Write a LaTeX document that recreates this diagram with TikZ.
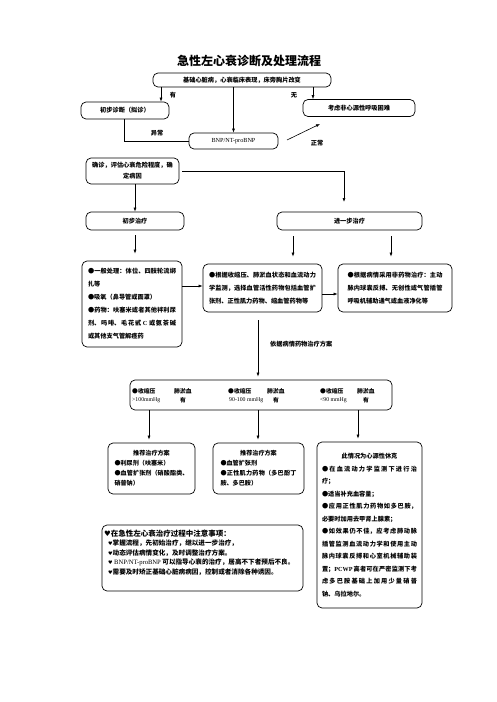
\documentclass[tikz,border=0pt]{standalone}
\usepackage{fontspec}
\setmainfont{Noto Sans CJK SC}
\newfontfamily\lat{Liberation Serif}
\newfontfamily\sym{DejaVu Sans}
\usetikzlibrary{arrows.meta}
\XeTeXlinebreaklocale "zh"
\XeTeXlinebreakskip=0pt plus 2pt
\begin{document}
\begin{tikzpicture}[x=1pt,y=-1pt,
  box/.style={draw, rounded corners=5pt, line width=0.7pt, inner sep=0pt, align=flush center,
    font=\bfseries\fontsize{6.2}{8}\selectfont},
  txt/.style={inner sep=0pt, font=\bfseries\fontsize{6.2}{8}\selectfont},
  arr/.style={-{Latex[length=4pt,width=3pt]}, line width=0.6pt},
  ln/.style={line width=0.6pt}]
\useasboundingbox (0,0) rectangle (496,702);
\fill[white] (0,0) rectangle (496,702);

\node[txt, font=\bfseries\fontsize{12}{14}\selectfont] (title) at (249,61) {急性左心衰诊断及处理流程};

\node[box, minimum width=178, minimum height=14] (b1) at (242,80) {基础心脏病，心衰临床表现，床旁胸片改变};
\node[box, minimum width=88, minimum height=17] (diag) at (125,110.5) {初步诊断（拟诊）};
\node[box, minimum width=112, minimum height=17] (nonc) at (359,108) {考虑非心源性呼吸困难};
\node[box, minimum width=89, minimum height=16, font=\lat\fontsize{6.2}{8}\selectfont] (bnp) at (233.5,141) {BNP/NT-proBNP};
\node[box, minimum width=93, minimum height=26, text width=84, font=\bfseries\fontsize{6.2}{11}\selectfont] (conf) at (132.5,171) {确诊，评估心衰危险程度，确\\定病因};
\node[box, minimum width=98, minimum height=18] (init) at (135,221) {初步治疗};
\node[box, minimum width=145, minimum height=18] (furt) at (349.5,221) {进一步治疗};

\node[box, minimum width=100, minimum height=86, text width=88, align=justify,
  font=\bfseries\fontsize{6.2}{13}\selectfont] (A) at (132,304)
  {●一般处理：体位、四肢轮流绑\linebreak 扎等\par
   ●吸氧（鼻导管或面罩）\par
   ●药物：呋塞米或者其他袢利尿\linebreak 剂、吗啡、毛花甙 {\lat C} 或氨茶碱\linebreak 或其他支气管解痉药};
\node[box, minimum width=119, minimum height=48, text width=107, align=justify,
  font=\bfseries\fontsize{6.2}{13}\selectfont] (B) at (262.5,288)
  {●根据收缩压、肺淤血状态和血流动力\linebreak 学监测，选择血管活性药物包括血管扩\linebreak 张剂、正性肌力药物、缩血管药物等};
\node[box, minimum width=114, minimum height=48, text width=95, align=justify,
  font=\bfseries\fontsize{6.2}{13}\selectfont] (C) at (395,288)
  {●根据病情采用非药物治疗：主动\linebreak 脉内球囊反搏、无创性或气管插管\linebreak 呼吸机辅助通气或血液净化等};

\node[box, minimum width=262, minimum height=30] (big) at (261,395) {};
\begin{scope}[every node/.style={txt, anchor=west, font=\bfseries\fontsize{5.8}{7}\selectfont}]
\node (r11) at (132,391) {●收缩压};
\node (r12) at (174,391) {肺淤血};
\node (r21) at (132,400) {\lat\mdseries >100mmHg};
\node (r22) at (180,400) {有};
\node (s11) at (228,391) {●收缩压};
\node (s12) at (267,391) {肺淤血};
\node (s21) at (229,400) {\lat\mdseries 90-100 mmHg};
\node (s22) at (273,400) {有};
\node (t11) at (320,391) {●收缩压};
\node (t12) at (357,391) {肺淤血};
\node (t21) at (320,400) {\lat\mdseries <90 mmHg};
\node (t22) at (363,400) {有};
\end{scope}

\node[box, minimum width=87, minimum height=51, text width=74, align=justify,
  font=\bfseries\fontsize{6.1}{10}\selectfont] (L) at (151.5,468.5)
  {{\centering 推荐治疗方案\par}
   ●利尿剂（呋塞米）\par
   ●血管扩张剂（硝酸酯类、\linebreak 硝普钠）};
\node[box, minimum width=91, minimum height=51, text width=76, align=justify,
  font=\bfseries\fontsize{6.1}{10}\selectfont] (M) at (258.5,468.5)
  {{\centering 推荐治疗方案\par}
   ●血管扩张剂\par
   ●正性肌力药物（多巴酚丁\linebreak 胺、多巴胺）};
\node[box, minimum width=105, minimum height=166, text width=95, align=justify,
  font=\bfseries\fontsize{6.2}{12.5}\selectfont] (R) at (369.5,525)
  {{\centering 此情况为心源性休克\par}
   ●在血流动力学监测下进行治\linebreak 疗；\par
   ●适当补充血容量；\par
   ●应用正性肌力药物如多巴胺，\linebreak 必要时加用去甲肾上腺素；\par
   ●如效果仍不佳，应考虑肺动脉\linebreak 插管监测血流动力学和使用主动\linebreak 脉内球囊反搏和心室机械辅助装\linebreak 置；{\lat PCWP}\,高者可在严密监测下考\linebreak 虑多巴胺基础上加用少量硝普\linebreak 钠、乌拉地尔。};

\node[box, minimum width=201, minimum height=66] (N) at (202.5,558) {};
\node[txt, anchor=west, font=\bfseries\fontsize{7.5}{9}\selectfont] (n1) at (104,534) {{\sym\mdseries ♥}在急性左心衰治疗过程中注意事项：};
\begin{scope}[every node/.style={txt, anchor=west, font=\bfseries\fontsize{6.6}{8}\selectfont}]
\node (n2) at (108,543.5) {{\sym\mdseries\fontsize{5}{6}\selectfont ♥}掌握流程，先初始治疗，继以进一步治疗，};
\node (n3) at (108,553) {{\sym\mdseries\fontsize{5}{6}\selectfont ♥}动态评估病情变化，及时调整治疗方案。};
\node (n4) at (108,562.5) {{\sym\mdseries\fontsize{5}{6}\selectfont ♥} {\lat\mdseries BNP/NT-proBNP} 可以指导心衰的治疗，居高不下者预后不良。};
\node (n5) at (108,572) {{\sym\mdseries\fontsize{5}{6}\selectfont ♥}需要及时矫正基础心脏病病因，控制或者消除各种诱因。};
\end{scope}

% connectors
\draw[arr] (161,87) -- (diag.north -| 161,0);
\draw[arr] (313,87) -- (nonc.north -| 313,0);
\node[txt] (lyes) at (173,95) {有};
\node[txt] (lno) at (294,95) {无};
\draw[arr] (b1.south -| bnp.north) -- (bnp.north);
\draw[ln] (diag.south -| 124,0) |- (bnp.west);
\node[txt] (labn) at (157,133) {异常};
\coordinate (nrm) at (320,124);
\draw[arr] (287,140) -- (nrm);
\node[txt] (lnorm) at (317,143) {正常};
\coordinate (cf) at (344,202);
\draw[arr] ([xshift=3pt]conf.east) -| (cf);
\draw[arr] (conf.south -| 135,0) -- (init.north -| 135,0);
\draw[arr] ([yshift=-5pt]init.south -| 135,0) -- ([yshift=7pt]A.north -| 135,0);
\draw[arr] ([yshift=-6pt]furt.south -| 293,0) -- ([yshift=7pt]B.north -| 293,0);
\draw[arr] ([yshift=-6pt]furt.south -| 391,0) -- ([yshift=7pt]C.north -| 391,0);
\draw[arr] (A.east |- 0,286) -- (B.west |- 0,286);
\draw[arr] (B.east |- 0,294) -- (C.west |- 0,294);
\draw[arr] ([yshift=-8pt]B.south -| 258,0) -- ([yshift=3pt]big.north -| 258,0);
\node[txt, anchor=west] (lplan) at (270,344) {依据病情药物治疗方案};
\draw[arr] (big.south -| 149,0) -- ([yshift=3pt]L.north -| 149,0);
\draw[arr] (big.south -| 258,0) -- ([yshift=3pt]M.north -| 258,0);
\draw[arr] (big.south -| 358,0) -- ([yshift=3pt]R.north -| 358,0);
\end{tikzpicture}
\end{document}
